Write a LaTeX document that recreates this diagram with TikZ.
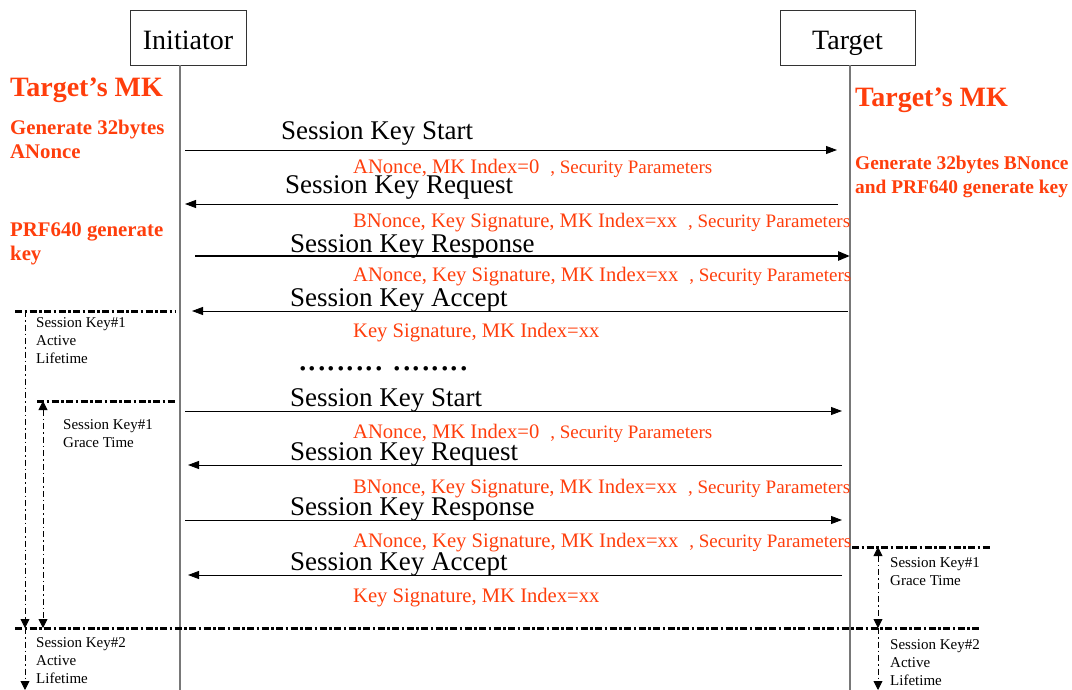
\documentclass[tikz,border=0pt]{standalone}
\usepackage{fontspec}
\setmainfont{Liberation Serif}
\usetikzlibrary{arrows.meta,positioning}

\definecolor{mkred}{RGB}{255,62,12}
\definecolor{lifegray}{RGB}{120,120,120}

\begin{document}
\begin{tikzpicture}[
    x=1pt, y=-1pt,
    actor/.style={rectangle, draw=black!80, line width=0.8pt, minimum height=55pt, inner sep=0pt, text height=28pt, text depth=3pt, font=\fontsize{28}{30}\selectfont},
    life/.style={draw=lifegray, line width=1.2pt},
    msg/.style={-{Triangle[length=11pt,width=8pt]}, line width=0.8pt},
    msglbl/.style={anchor=base west, inner sep=0pt, font=\fontsize{27}{30}\selectfont},
    param/.style={anchor=base west, inner sep=0pt, text=mkred, font=\fontsize{20.6}{24}\selectfont},
    mk/.style={anchor=base west, inner sep=0pt, text=mkred, font=\fontsize{28}{30}\selectfont\bfseries},
    gen/.style={anchor=base west, inner sep=0pt, text=mkred, align=left, font=\fontsize{20.8}{24.5}\selectfont\bfseries},
    note/.style={anchor=base west, inner sep=0pt, align=left, font=\fontsize{15}{18}\selectfont},
    phase/.style={line width=3pt, dash pattern=on 7pt off 2.5pt on 2.5pt off 2.5pt},
    span/.style={line width=0.9pt, dash pattern=on 6pt off 3pt on 1.5pt off 3pt},
    spanarr/.style={span, -{Triangle[length=9pt,width=9pt]}},
    spanboth/.style={span, {Triangle[length=9pt,width=9pt]}-{Triangle[length=9pt,width=9pt]}}
]
\useasboundingbox (0,0) rectangle (1072,690);

\newcommand{\smallpar}{\fontsize{19}{22}\selectfont}

% Actors
\node[actor, minimum width=116pt] (init) at (188,37.5) {Initiator};
\node[actor, minimum width=135pt] (targ) at (847.5,37.5) {Target};

% Lifelines
\coordinate (iend) at (180,690);
\coordinate (tend) at (850,690);
\draw[life] (init.south -| iend) -- (iend);
\draw[life] (targ.south -| tend) -- (tend);

% Key material notes (multi-line nodes sit on their last baseline)
\node[mk] (mkl) at (10,97) {Target's MK};
\node[gen] (genl) at (10,159) {Generate 32bytes\\ANonce};
\node[gen] (prfl) at (10,261) {PRF640 generate\\key};
\node[mk] (mkr) at (855,107) {Target's MK};
\node[gen, font=\fontsize{19.4}{24.5}\selectfont\bfseries] (genr) at (855,194) {Generate 32bytes BNonce\\and PRF640 generate key};

% First exchange
\node[msglbl] (l1) at (281,140) {Session Key Start};
\node[param] (p1) at (353,174) {ANonce, MK Index=0\hspace{11pt}{\smallpar, Security Parameters}};
\node[msglbl] (l2) at (285,194) {Session Key Request};
\node[param] (p2) at (353,228) {BNonce, Key Signature, MK Index=xx\hspace{11pt}{\smallpar, Security Parameters}};
\node[msglbl] (l3) at (290,252) {Session Key Response};
\node[param] (p3) at (353,281) {ANonce, Key Signature, MK Index=xx\hspace{11pt}{\smallpar, Security Parameters}};
\node[msglbl] (l4) at (290,306) {Session Key Accept};
\node[param] (p4) at (353,337) {Key Signature, MK Index=xx};

\node[anchor=base west, inner sep=0pt, font=\fontsize{38}{40}\selectfont] (gap) at (298,370) {.........\hspace{9pt}........};

% Second exchange
\node[msglbl] (l5) at (290,406) {Session Key Start};
\node[param] (p5) at (353,438) {ANonce, MK Index=0\hspace{11pt}{\smallpar, Security Parameters}};
\node[msglbl] (l6) at (290,460) {Session Key Request};
\node[param] (p6) at (353,493) {BNonce, Key Signature, MK Index=xx\hspace{11pt}{\smallpar, Security Parameters}};
\node[msglbl] (l7) at (290,515) {Session Key Response};
\node[param] (p7) at (353,547) {ANonce, Key Signature, MK Index=xx\hspace{11pt}{\smallpar, Security Parameters}};
\node[msglbl] (l8) at (290,570) {Session Key Accept};
\node[param] (p8) at (353,602) {Key Signature, MK Index=xx};

% Message end points
\coordinate (a1) at (185,150); \coordinate (b1) at (837,150);
\coordinate (a2) at (838,204); \coordinate (b2) at (185,204);
\coordinate (a3) at (195,256); \coordinate (b3) at (850,256);
\coordinate (a4) at (848,311); \coordinate (b4) at (192,311);
\coordinate (a5) at (185,411); \coordinate (b5) at (842,411);
\coordinate (a6) at (842,465); \coordinate (b6) at (188,465);
\coordinate (a7) at (185,520); \coordinate (b7) at (842,520);
\coordinate (a8) at (842,575); \coordinate (b8) at (188,575);

\foreach \s/\e in {a1/b1, a2/b2, a4/b4, a5/b5, a6/b6, a7/b7, a8/b8} {
    \draw[msg] (\s) -- (\e);
}
\draw[msg, line width=2.6pt, -{Triangle[length=12pt,width=9pt]}] (a3) -- (b3);

% Key lifetime marks, initiator side
\coordinate (h1s) at (15,311);  \coordinate (h1e) at (175,311);
\coordinate (h2s) at (37,401);  \coordinate (h2e) at (175,401);
\coordinate (h3s) at (15,628);  \coordinate (h3e) at (980,628);
\draw[phase] (h1s) -- (h1e);
\draw[phase] (h2s) -- (h2e);
\draw[phase] (h3s) -- (h3e);

\coordinate (v1t) at (25,311);  \coordinate (v1m) at (25,628);  \coordinate (v1b) at (25,690);
\coordinate (v2t) at (43,401);  \coordinate (v2b) at (43,628);
\draw[spanarr] (v1t) -- (v1m);
\draw[spanarr] (v1m) -- (v1b);
\draw[spanboth] (v2t) -- (v2b);

\node[note] (n1) at (36,363) {Session Key\#1\\Active\\Lifetime};
\node[note] (n2) at (63,447) {Session Key\#1\\Grace Time};
\node[note] (n3) at (36,683) {Session Key\#2\\Active\\Lifetime};

% Key lifetime marks, target side
\coordinate (h4s) at (852,547); \coordinate (h4e) at (990,547);
\draw[phase] (h4s) -- (h4e);
\coordinate (v3t) at (878,547); \coordinate (v3m) at (878,628); \coordinate (v3b) at (878,690);
\draw[spanboth] (v3t) -- (v3m);
\draw[spanarr] (v3m) -- (v3b);

\node[note] (n4) at (890,585) {Session Key\#1\\Grace Time};
\node[note] (n5) at (890,685) {Session Key\#2\\Active\\Lifetime};

\end{tikzpicture}
\end{document}
